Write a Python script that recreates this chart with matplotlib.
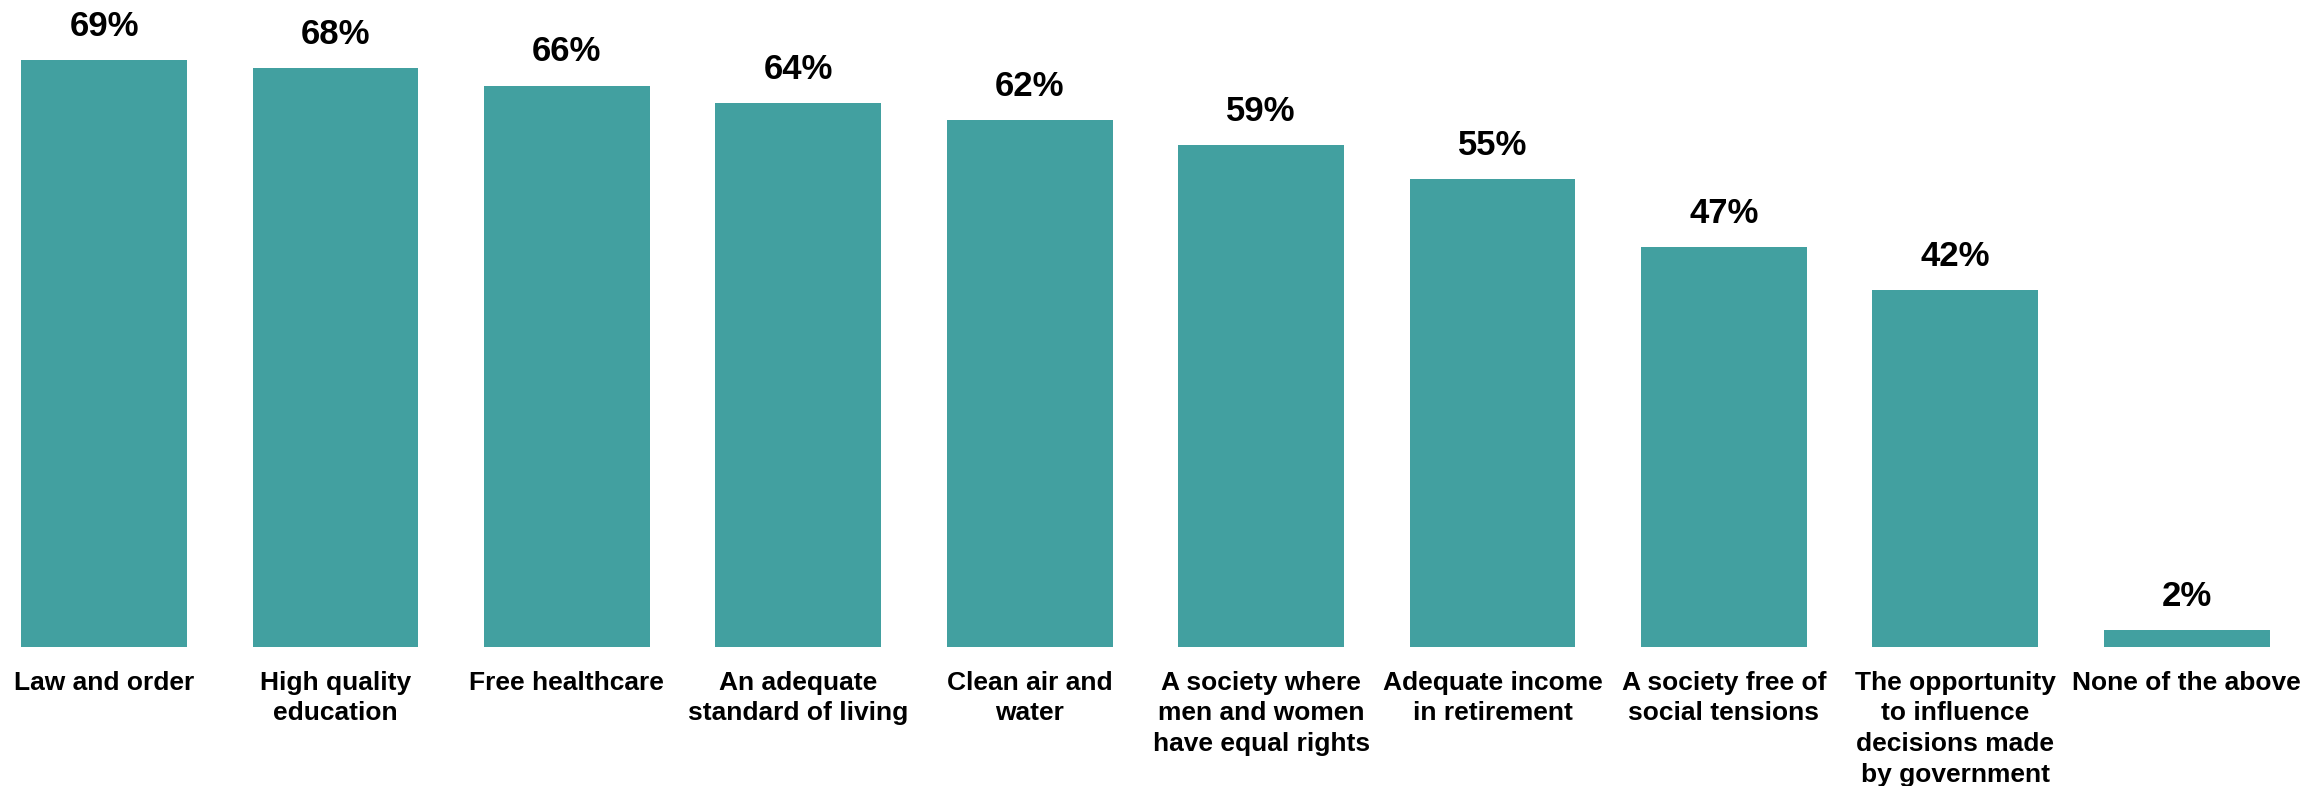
import matplotlib.pyplot as plt
from matplotlib import font_manager

categories = ["Law and order", "High quality\neducation", "Free healthcare",
              "An adequate\nstandard of living", "Clean air and\nwater",
              "A society where\nmen and women\nhave equal rights",
              "Adequate income\nin retirement", "A society free of\nsocial tensions",
              "The opportunity\nto influence\ndecisions made\nby government",
              "None of the above"]
values = [69, 68, 66, 64, 62, 59, 55, 47, 42, 2]

names = {f.name for f in font_manager.fontManager.ttflist}
label_font = "Liberation Sans Narrow" if "Liberation Sans Narrow" in names else "Liberation Sans"

fig = plt.figure(figsize=(23.07, 7.86), dpi=100)
ax = fig.add_axes([0, 0.1768, 1, 0.8232])
x = list(range(len(values)))
ax.bar(x, values, width=0.716, color="#42a0a0")
for xi, v in zip(x, values):
    ax.text(xi, v + 2.0, f"{v}%", ha="center", va="bottom", fontsize=25,
            fontweight="bold", family="Liberation Sans")

ax.set_xlim(-0.45, 9.52)
ax.set_ylim(0, 76.05)
ax.set_xticks(x)
ax.set_xticklabels(categories, fontsize=19, fontweight="bold", family=label_font,
                   linespacing=1.36)
ax.tick_params(axis="x", length=0, pad=17)
ax.set_yticks([])
for s in ax.spines.values():
    s.set_visible(False)

fig.savefig("out.png", dpi=100)
